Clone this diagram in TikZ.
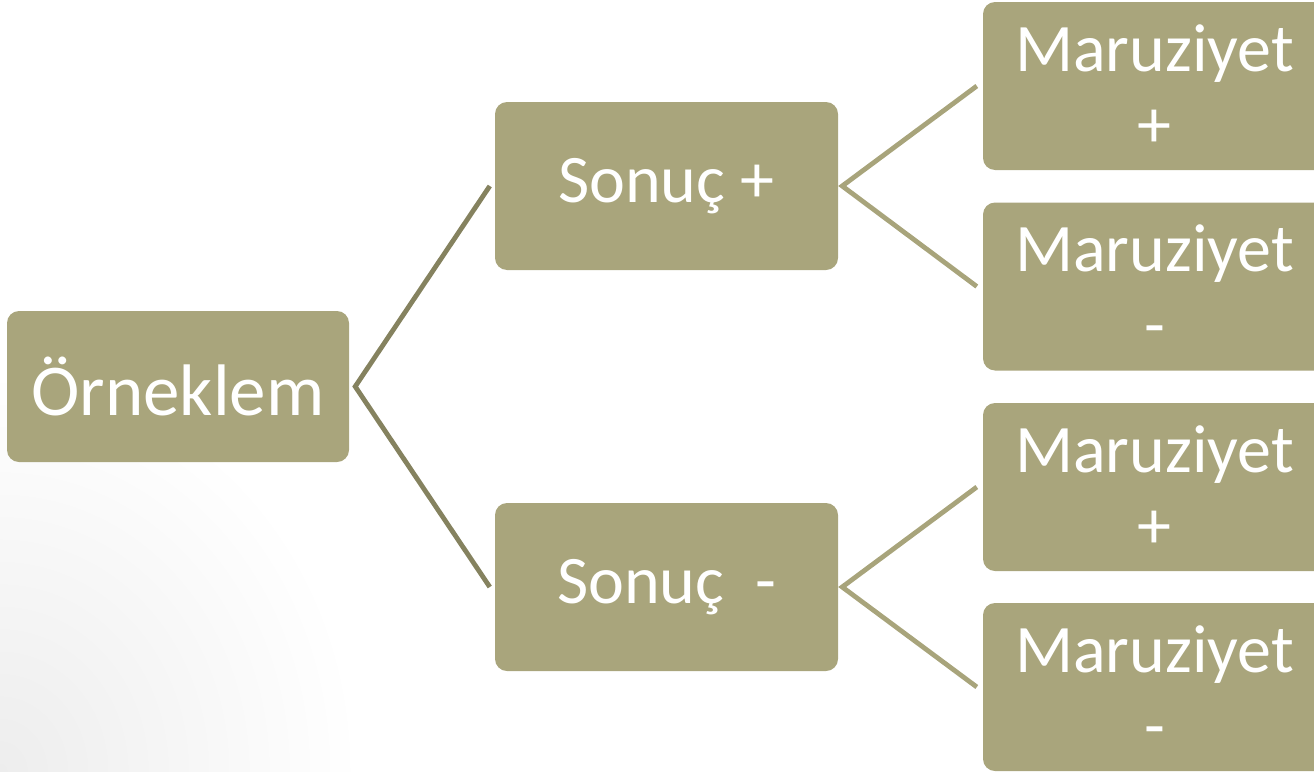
\documentclass[tikz,border=0pt]{standalone}
\usepackage{fontspec}
\setmainfont{Carlito}
\usetikzlibrary{calc}
\definecolor{boxfill}{HTML}{A9A57C}
\definecolor{trunk}{HTML}{85825F}
\definecolor{twig}{HTML}{A8A47B}
\tikzset{
  box/.style={rectangle, rounded corners=12pt, fill=boxfill, text=white,
    minimum width=343pt, minimum height=168pt, inner sep=0pt, align=center,
    font=\fontsize{68}{76}\selectfont},
  trunkline/.style={draw=trunk, line width=4.8pt, line join=miter},
  twigline/.style={draw=twig, line width=4.8pt, line join=miter},
}
\begin{document}
\begin{tikzpicture}[x=1pt, y=-1pt]
  \useasboundingbox (0,0) rectangle (1314,771);
  % soft grey corner in the background
  \begin{scope}
    \clip (0,0) rectangle (1314,771);
    \shade[inner color=black!7, outer color=white] (0,771) ellipse [x radius=360pt, y radius=400pt];
  \end{scope}

  % root
  \node[box, minimum width=342pt, minimum height=151pt,
        font=\fontsize{73}{80}\selectfont] (o) at (178,386.5) {Örneklem};

  % outcome level
  \node[box] (sp) at (666.5,186) {Sonuç +};
  \node[box] (sm) at (666.5,587) {Sonuç~~-};

  % exposure level
  \node[box] (m1) at (1154.5,86)  {Maruziyet\\+};
  \node[box] (m2) at (1154.5,286.5) {Maruziyet\\-};
  \node[box] (m3) at (1154.5,487) {Maruziyet\\+};
  \node[box] (m4) at (1154.5,687) {Maruziyet\\-};

  % connectors
  \draw[trunkline] ($(sp.west)+(-5,0)$) -- ($(o.east)+(6,0)$) -- ($(sm.west)+(-5,0)$);
  \draw[twigline] ($(m1.west)+(-6,0)$) -- ($(sp.east)+(4,0)$) -- ($(m2.west)+(-6,0)$);
  \draw[twigline] ($(m3.west)+(-6,0)$) -- ($(sm.east)+(4,0)$) -- ($(m4.west)+(-6,0)$);
\end{tikzpicture}
\end{document}
